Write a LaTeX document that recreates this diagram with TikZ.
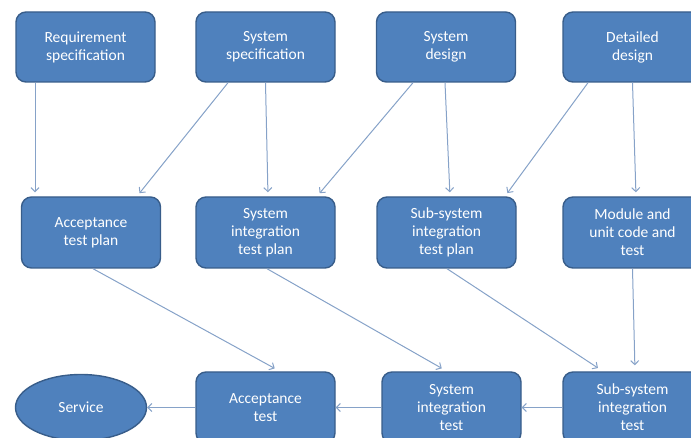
\documentclass[tikz,border=0pt]{standalone}
\usepackage{fontspec}
\setmainfont{Carlito}
\usetikzlibrary{positioning,shapes.geometric,arrows.meta}
\definecolor{boxfill}{HTML}{4F81BD}
\definecolor{boxline}{HTML}{385D8A}
\definecolor{flowline}{HTML}{86A2C8}
\tikzset{
  stage/.style={draw=boxline,fill=boxfill,line width=1.4pt,rounded corners=10pt,
    minimum width=139pt,minimum height=70pt,inner sep=0pt,align=center,
    text=white,font=\fontsize{15.5}{18}\selectfont},
  goal/.style={stage,ellipse,rounded corners=0pt,minimum width=131pt,minimum height=66pt},
  flow/.style={-{Straight Barb[length=4pt,width=8pt]},draw=flowline,line width=1pt,shorten >=4pt},
}
\begin{document}
\begin{tikzpicture}[x=1pt,y=-1pt,on grid]
	\clip (0,0) rectangle (691,438);
	\useasboundingbox (0,0) rectangle (691,438);
	% top row
	\node[stage] (req) at (85.5,47) {Requirement\\specification};
	\node[stage] (sysspec) [right=180pt of req] {System\\specification};
	\node[stage] (sysdes) [right=180.5pt of sysspec] {System\\design};
	\node[stage] (detdes) [right=186.5pt of sysdes] {Detailed\\design};
	% plans
	\node[stage,minimum height=71pt] (atp) [below right=185.5pt and 5.5pt of req] {Acceptance\\test plan};
	\node[stage,minimum height=71pt] (sitp) [below=185.5pt of sysspec] {System\\integration\\test plan};
	\node[stage,minimum height=71pt] (ssitp) [below right=185.5pt and 0.5pt of sysdes] {Sub-system\\integration\\test plan};
	\node[stage,minimum height=71pt] (muc) [below=185.5pt of detdes] {Module and\\unit code and\\test};
	% tests
	\node[stage,minimum height=71pt] (at) [below=175pt of sitp] {Acceptance\\test};
	\node[stage,minimum height=71pt] (sit) [below right=175pt and 5pt of ssitp] {System\\integration\\test};
	\node[stage,minimum height=71pt] (ssit) [below=175pt of muc] {Sub-system\\integration\\test};
	\node[goal] (serv) [left=184.5pt of at] {Service};
	% design to plans
	\draw[flow] ([xshift=-50.5pt]req.south) -- ([xshift=-56pt]atp.north);
	\draw[flow] ([xshift=-37.5pt]sysspec.south) -- ([xshift=46pt]atp.north);
	\draw[flow] (sysspec.south) -- ([xshift=2.5pt]sitp.north);
	\draw[flow] ([xshift=-33pt]sysdes.south) -- ([xshift=51.5pt]sitp.north);
	\draw[flow] ([xshift=-1pt]sysdes.south) -- ([xshift=3.5pt]ssitp.north);
	\draw[flow] ([xshift=-44.5pt]detdes.south) -- ([xshift=58.5pt]ssitp.north);
	\draw[flow] (detdes.south) -- ([xshift=3.5pt]muc.north);
	% plans to tests
	\draw[flow,shorten >=6pt] ([xshift=2pt]atp.south) -- ([xshift=14.5pt]at.north);
	\draw[flow,shorten >=6pt] ([xshift=1.5pt]sitp.south) -- ([xshift=-4.5pt]sit.north);
	\draw[flow,shorten >=6pt] ([xshift=0.5pt]ssitp.south) -- ([xshift=-29.5pt]ssit.north);
	\draw[flow,shorten >=6pt] (muc.south) -- ([xshift=2.5pt]ssit.north);
	% test chain
	\draw[flow,shorten >=0pt] (ssit) -- (sit);
	\draw[flow,shorten >=0pt] (sit) -- (at);
	\draw[flow,shorten >=0pt] (at) -- (serv);
\end{tikzpicture}
\end{document}
